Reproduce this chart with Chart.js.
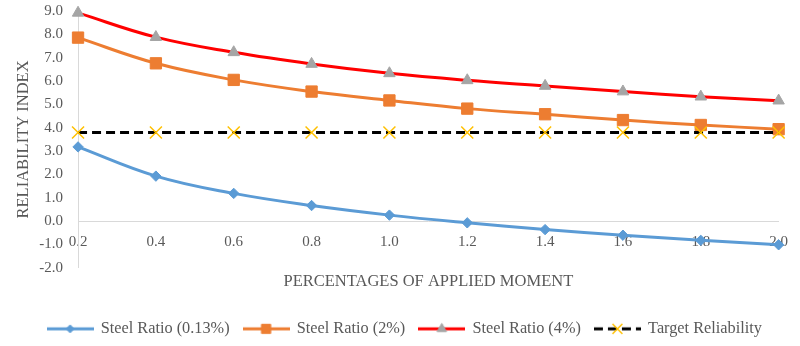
<!DOCTYPE html>
<html>
<head>
<meta charset="utf-8">
<script src="https://cdn.jsdelivr.net/npm/chart.js@4/dist/chart.umd.min.js"></script>
<style>
  html, body { margin: 0; padding: 0; background: #ffffff; }
  canvas { display: block; }
</style>
</head>
<body>
<canvas id="chart" width="800" height="346"></canvas>
<script>
// Applied moment ratios (x categories)
const moments = ['0.2', '0.4', '0.6', '0.8', '1.0', '1.2', '1.4', '1.6', '1.8', '2.0'];

// Reliability index for each steel ratio
const ratio013 = [3.18, 1.93, 1.19, 0.67, 0.26, -0.07, -0.36, -0.60, -0.82, -1.01];
const ratio2   = [7.86, 6.76, 6.05, 5.55, 5.17, 4.82, 4.58, 4.33, 4.12, 3.94];
const ratio4   = [8.92, 7.88, 7.23, 6.73, 6.33, 6.03, 5.79, 5.55, 5.33, 5.16];
const target   = [3.8, 3.8, 3.8, 3.8, 3.8, 3.8, 3.8, 3.8, 3.8, 3.8];

const seriesNames = ['Steel Ratio (0.13%)', 'Steel Ratio (2%)', 'Steel Ratio (4%)', 'Target Reliability'];
const yRange = { min: -2, max: 9, step: 1 };

const SERIF = '"Liberation Serif", "Times New Roman", serif';
const TEXT = '#595959';
const AXIS = '#d9d9d9';

// Legend swatch: a short line with the series marker in the middle
function legendIcon(lineColor, dash, style, fill, stroke, radius, markerWidth) {
  const cv = document.createElement('canvas');
  cv.width = 47; cv.height = 16;
  const g = cv.getContext('2d');
  g.strokeStyle = lineColor;
  g.lineWidth = 3;
  g.setLineDash(dash);
  g.beginPath(); g.moveTo(0, 8); g.lineTo(47, 8); g.stroke();
  g.setLineDash([]);
  g.fillStyle = fill;
  g.strokeStyle = stroke;
  g.lineWidth = markerWidth;
  Chart.helpers.drawPoint(g, { pointStyle: style, radius: radius, borderWidth: markerWidth, rotation: 0 }, 23.5, 8);
  return cv;
}

const icons = [
  legendIcon('#5B9BD5', [], 'rectRot', '#5B9BD5', '#5B9BD5', 4, 1),
  legendIcon('#ED7D31', [], 'rect', '#ED7D31', '#ED7D31', 6.5, 1),
  legendIcon('#FF0000', [], 'triangle', '#A5A5A5', '#A5A5A5', 5.5, 1),
  legendIcon('#000000', [9, 5], 'crossRot', '#FFC000', '#FFC000', 7, 1.5)
];

new Chart(document.getElementById('chart'), {
  type: 'line',
  data: {
    labels: moments,
    datasets: [
      {
        label: seriesNames[0], data: ratio013, order: 3,
        borderColor: '#5B9BD5', backgroundColor: '#5B9BD5', borderWidth: 3, tension: 0.4,
        pointStyle: 'rectRot', pointRadius: 5.2, pointBorderWidth: 1,
        pointBackgroundColor: '#5B9BD5', pointBorderColor: '#5B9BD5', clip: false
      },
      {
        label: seriesNames[1], data: ratio2, order: 2,
        borderColor: '#ED7D31', backgroundColor: '#ED7D31', borderWidth: 3, tension: 0.4,
        pointStyle: 'rect', pointRadius: 8, pointBorderWidth: 1,
        pointBackgroundColor: '#ED7D31', pointBorderColor: '#ED7D31', clip: false
      },
      {
        label: seriesNames[2], data: ratio4, order: 1,
        borderColor: '#FF0000', backgroundColor: '#FF0000', borderWidth: 3, tension: 0.4,
        pointStyle: 'triangle', pointRadius: 6.6, pointBorderWidth: 1,
        pointBackgroundColor: '#A5A5A5', pointBorderColor: '#A5A5A5', clip: false
      },
      {
        label: seriesNames[3], data: target, order: 0,
        borderColor: '#000000', backgroundColor: '#000000', borderWidth: 3, borderDash: [9, 5], tension: 0,
        pointStyle: 'crossRot', pointRadius: 8.5, pointBorderWidth: 1.5,
        pointBackgroundColor: '#FFC000', pointBorderColor: '#FFC000', clip: false
      }
    ]
  },
  options: {
    responsive: false,
    animation: false,
    devicePixelRatio: 1,
    layout: { padding: { left: 9.5, right: 0, top: 1, bottom: -1 } },
    plugins: {
      tooltip: { enabled: false },
      legend: {
        position: 'bottom',
        labels: {
          usePointStyle: true,
          pointStyleWidth: 45,
          padding: 14,
          color: TEXT,
          font: { family: SERIF, size: 16.3 },
          sort: (a, b) => a.datasetIndex - b.datasetIndex,
          generateLabels(chart) {
            const items = Chart.defaults.plugins.legend.labels.generateLabels(chart);
            items.forEach(it => { it.pointStyle = icons[it.datasetIndex]; });
            return items;
          }
        }
      },
      title: {
        display: true,
        position: 'bottom',
        weight: 500,
        fullSize: false,
        text: 'PERCENTAGES OF APPLIED MOMENT',
        color: TEXT,
        font: { family: SERIF, size: 16.5, weight: 'normal' },
        padding: { top: 4, bottom: 15 }
      }
    },
    scales: {
      x: {
        axis: 'x',
        type: 'category',
        position: { y: 0 },
        offset: false,
        grid: { display: false, drawTicks: false },
        border: { display: true, color: AXIS, width: 1 },
        ticks: { color: TEXT, font: { family: SERIF, size: 15 }, padding: 12, autoSkip: false, maxRotation: 0 }
      },
      y: {
        position: 'left',
        min: yRange.min,
        max: yRange.max,
        grid: { display: false, drawTicks: true, tickLength: 13 },
        border: { display: true, color: AXIS, width: 1 },
        ticks: {
          stepSize: yRange.step, padding: 2, color: TEXT,
          font: { family: SERIF, size: 15 },
          callback: v => Number(v).toFixed(1)
        },
        title: {
          display: true, text: 'RELIABILITY INDEX', color: TEXT,
          font: { family: SERIF, size: 16.5 },
          padding: { top: 4, bottom: 4 }
        }
      }
    }
  }
});
</script>
</body>
</html>
